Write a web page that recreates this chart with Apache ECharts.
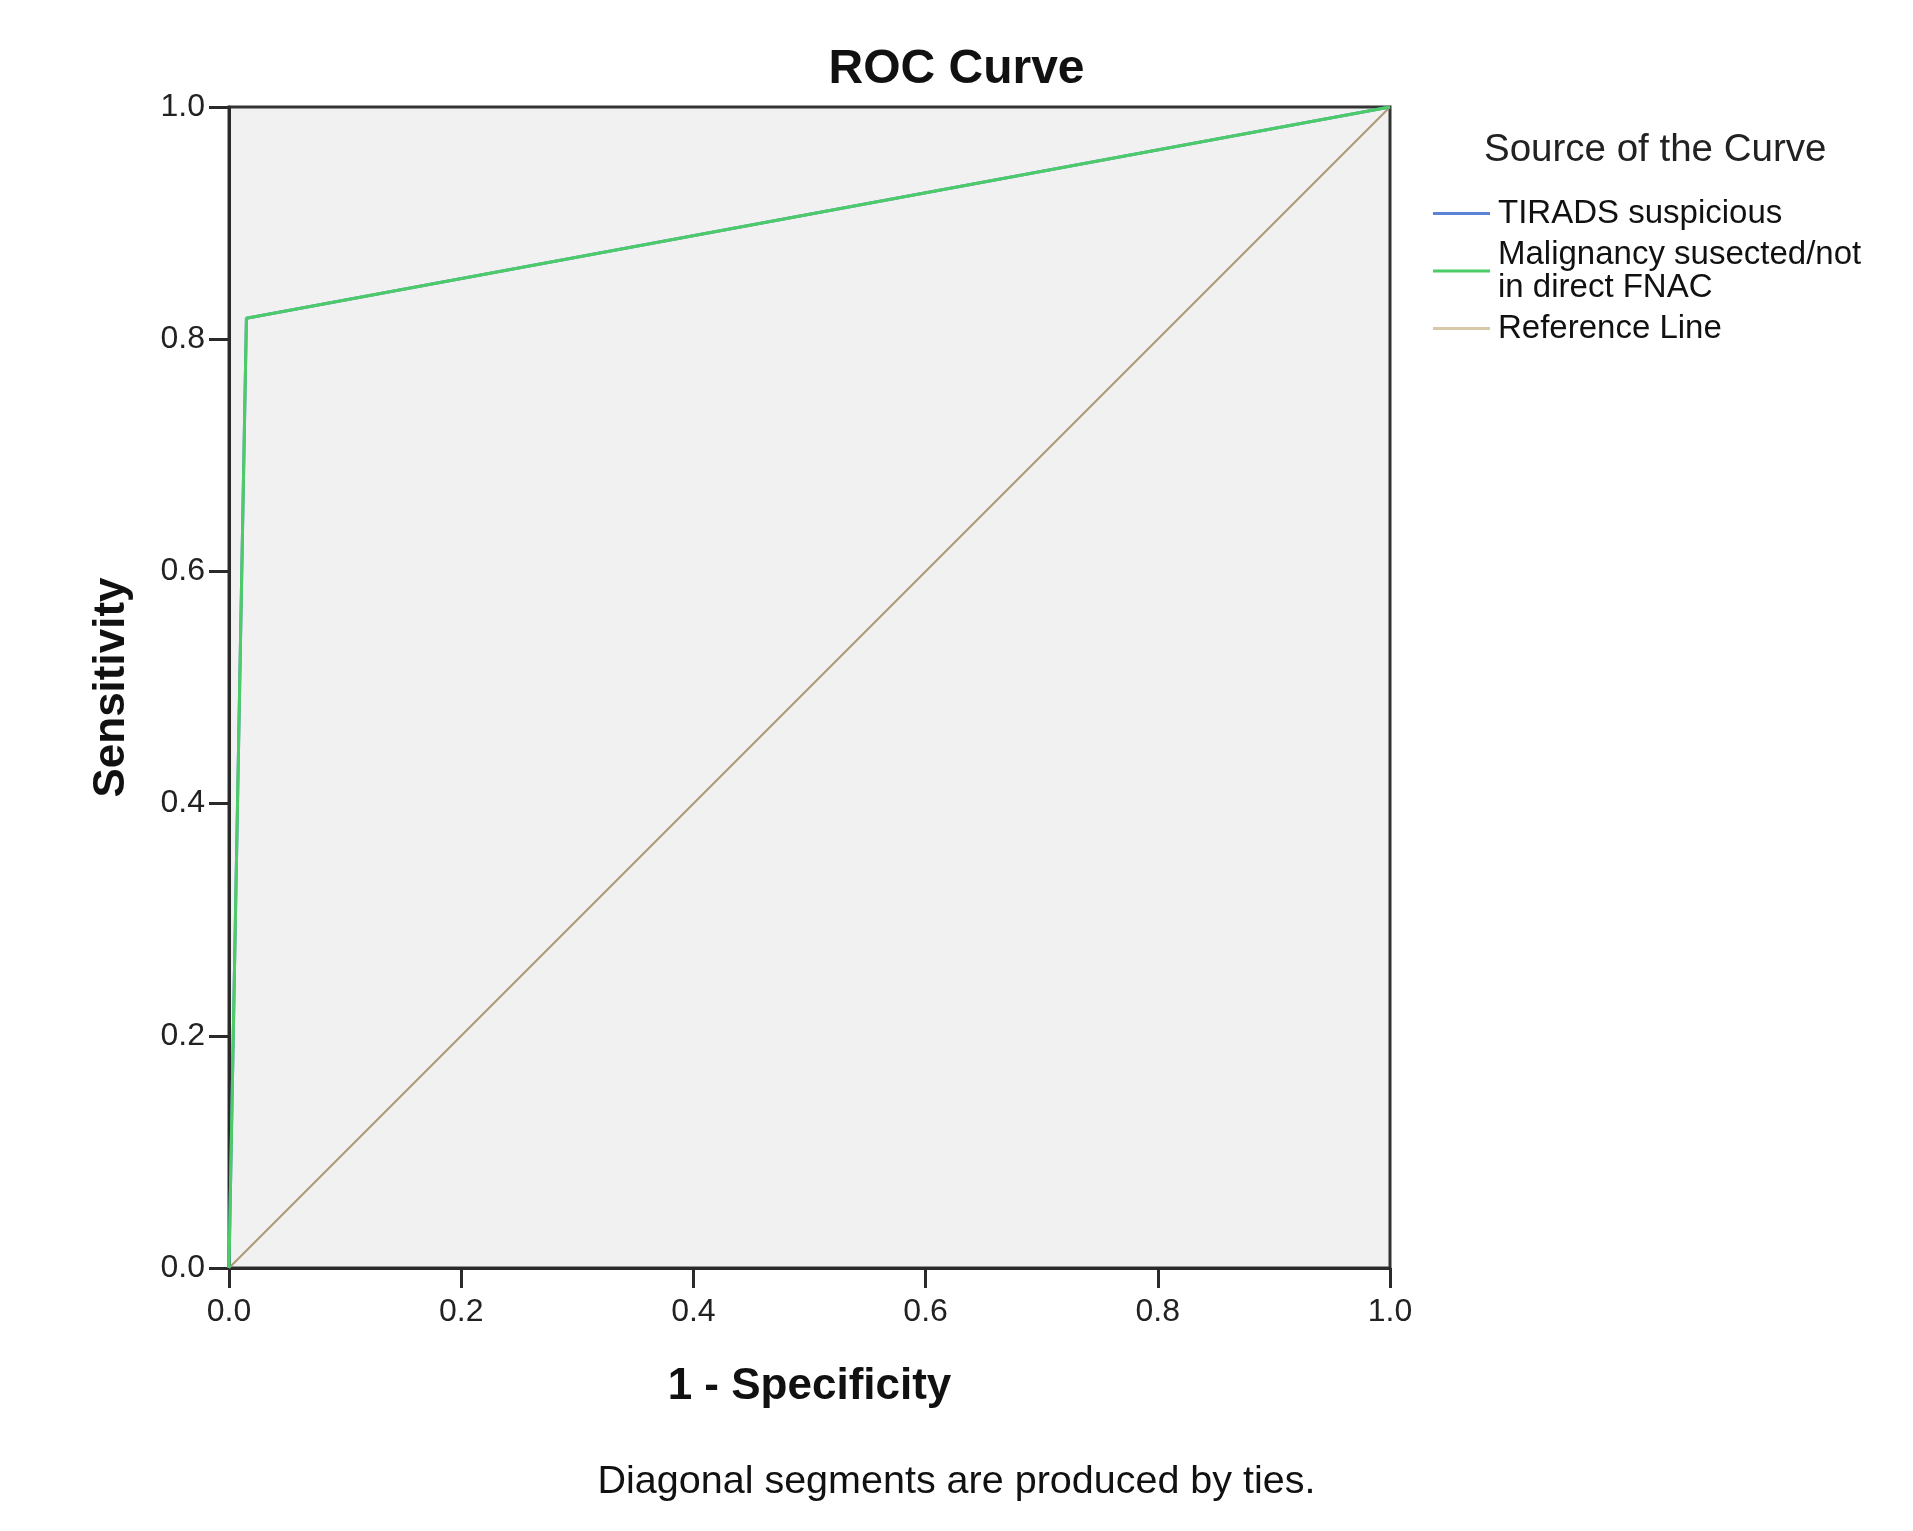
<!DOCTYPE html>
<html>
<head>
<meta charset="utf-8">
<script src="https://cdn.jsdelivr.net/npm/echarts@6/dist/echarts.min.js"></script>
<style>html,body{margin:0;padding:0;background:#fff;}#chart{width:1913px;height:1531px;}</style>
</head>
<body>
<div id="chart"></div>
<script>
// Data
const seriesNames = ['TIRADS suspicious', 'Malignancy susected/not\nin direct FNAC', 'Reference Line'];
const tiradsX = [0, 0.015, 1];
const tiradsY = [0, 0.818, 1];
const fnacX = [0, 0.015, 1];
const fnacY = [0, 0.818, 1];
const refX = [0, 1];
const refY = [0, 1];
const tickValues = [0, 0.2, 0.4, 0.6, 0.8, 1.0];

const zip = (xs, ys) => xs.map((x, i) => [x, ys[i]]);

const chart = echarts.init(document.getElementById('chart'));
const font = 'Liberation Sans, Arial, sans-serif';
const axisCommon = {
  type: 'value', min: 0, max: 1, interval: 0.2,
  axisLine: { show: true, lineStyle: { color: '#2a2a2a', width: 3 } },
  axisTick: { show: true, inside: false, length: 20, lineStyle: { color: '#2a2a2a', width: 3 } },
  splitLine: { show: false },
  axisLabel: { color: '#222', fontSize: 32, fontFamily: font, formatter: v => v.toFixed(1) },
  nameLocation: 'middle',
  nameTextStyle: { color: '#111', fontSize: 44, fontWeight: 'bold', fontFamily: font }
};

chart.setOption({
  backgroundColor: '#fff',
  animation: false,
  title: [{
    text: 'ROC Curve', left: 'center', top: 41,
    textStyle: { color: '#111', fontSize: 48, fontWeight: 'bold', fontFamily: font }
  }, {
    text: 'Source of the Curve', left: 1479, top: 126,
    textStyle: { color: '#222', fontSize: 38.5, fontWeight: 'normal', fontFamily: font }
  }],
  grid: {
    left: 229, top: 107, width: 1161, height: 1161,
    show: true, backgroundColor: '#f1f1f1', borderColor: '#333', borderWidth: 3
  },
  xAxis: Object.assign({}, axisCommon, {
    name: '1 - Specificity', nameGap: 97,
    axisLabel: Object.assign({}, axisCommon.axisLabel, { margin: 28 })
  }),
  yAxis: Object.assign({}, axisCommon, {
    name: 'Sensitivity', nameGap: 95,
    axisLabel: Object.assign({}, axisCommon.axisLabel, { margin: 24 })
  }),
  legend: {
    orient: 'vertical', left: 1428, top: 192,
    icon: 'rect', itemWidth: 57, itemHeight: 3, itemGap: 8,
    textStyle: { color: '#111', fontSize: 33, fontFamily: font, lineHeight: 33, padding: [0, 0, 0, 3] },
    data: seriesNames
  },
  series: [{
    name: seriesNames[0], type: 'line', symbol: 'none',
    data: zip(tiradsX, tiradsY),
    lineStyle: { color: '#5b82d6', width: 3 }, itemStyle: { color: '#5b82d6' }
  }, {
    name: seriesNames[1], type: 'line', symbol: 'none',
    data: zip(fnacX, fnacY),
    lineStyle: { color: '#4ccc66', width: 3 }, itemStyle: { color: '#4ccc66' }
  }, {
    name: seriesNames[2], type: 'line', symbol: 'none',
    data: zip(refX, refY), z: 1,
    lineStyle: { color: '#ad9878', width: 2 }, itemStyle: { color: '#d6c8a8' }
  }],
  graphic: [{
    type: 'text', left: 'center', top: 1462,
    style: { text: 'Diagonal segments are produced by ties.', fill: '#111', fontSize: 39.5, fontFamily: font }
  }]
});
</script>
</body>
</html>
